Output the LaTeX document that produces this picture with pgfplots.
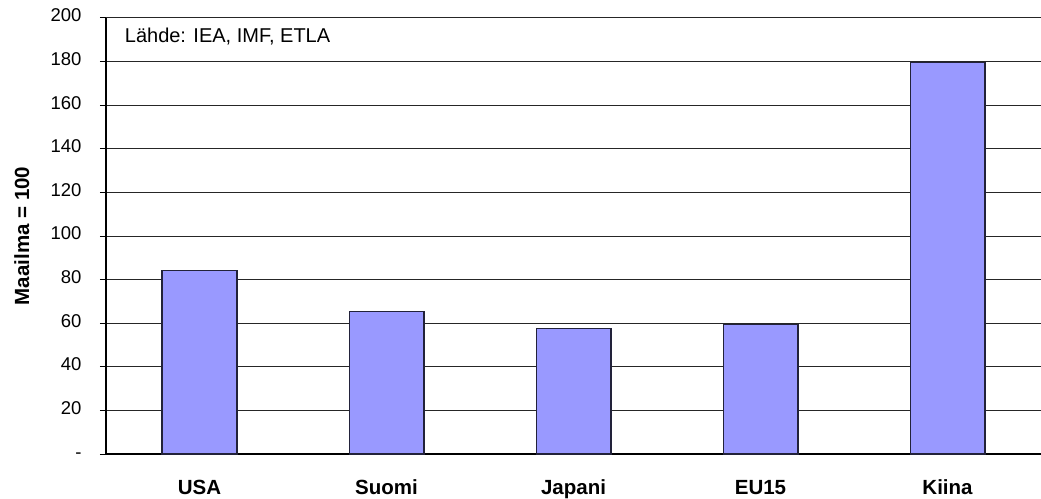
\documentclass[border=0pt]{standalone}
\usepackage{pgfplots}
\pgfplotsset{compat=1.18}
\usepackage{fontspec}
\setmainfont{Liberation Sans}
\definecolor{barfill}{HTML}{9999FF}
\definecolor{baredge}{HTML}{22223A}
\begin{document}
\begin{tikzpicture}[x=1pt,y=1pt]
\useasboundingbox (-106,-44) rectangle (935,454);
\begin{axis}[
  at={(0,0)}, anchor=south west,
  scale only axis,
  width=935pt, height=436pt,
  ymin=0, ymax=200,
  xmin=-0.5, xmax=4.5,
  ytick={0,20,...,200},
  yticklabels={-,20,40,60,80,100,120,140,160,180,200},
  xtick={0,1,2,3,4},
  xticklabels={USA,Suomi,Japani,EU15,Kiina},
  typeset ticklabels with strut,
  extra x ticks={-0.5,0.5,1.5,2.5,3.5},
  extra x tick labels={},
  extra x tick style={major tick length=6pt, tick style={black, line width=1pt}, grid=none},
  major x tick style={draw=none},
  ytick style={black, line width=1pt},
  major tick length=6pt,
  tick align=outside,
  axis x line*=bottom, axis y line*=left,
  axis line style={black, line width=1.2pt, -},
  ymajorgrids, grid style={black!85, line width=1pt},
  yticklabel style={font=\fontsize{18.5}{20}\selectfont, xshift=-15pt},
  xticklabel style={font=\bfseries\fontsize{20.5}{22}\selectfont, yshift=-16pt},
  ylabel={\bfseries Maailma = 100},
  ylabel style={font=\fontsize{20.5}{22}\selectfont, at={(axis description cs:-0.09,0.5)}, anchor=center},
  /pgf/number format/assume math mode=true,
  ybar, bar width=0.4,
  clip=false,
]
\addplot[fill=barfill, draw=baredge, line width=1.2pt] coordinates {(0,84) (1,65.3) (2,57.7) (3,59.3) (4,179.5)};
\node[anchor=west, font=\fontsize{20}{22}\selectfont, inner sep=0pt] at (axis cs:-0.4,191.5) {Lähde: IEA, IMF, ETLA};
\end{axis}
\end{tikzpicture}
\end{document}
